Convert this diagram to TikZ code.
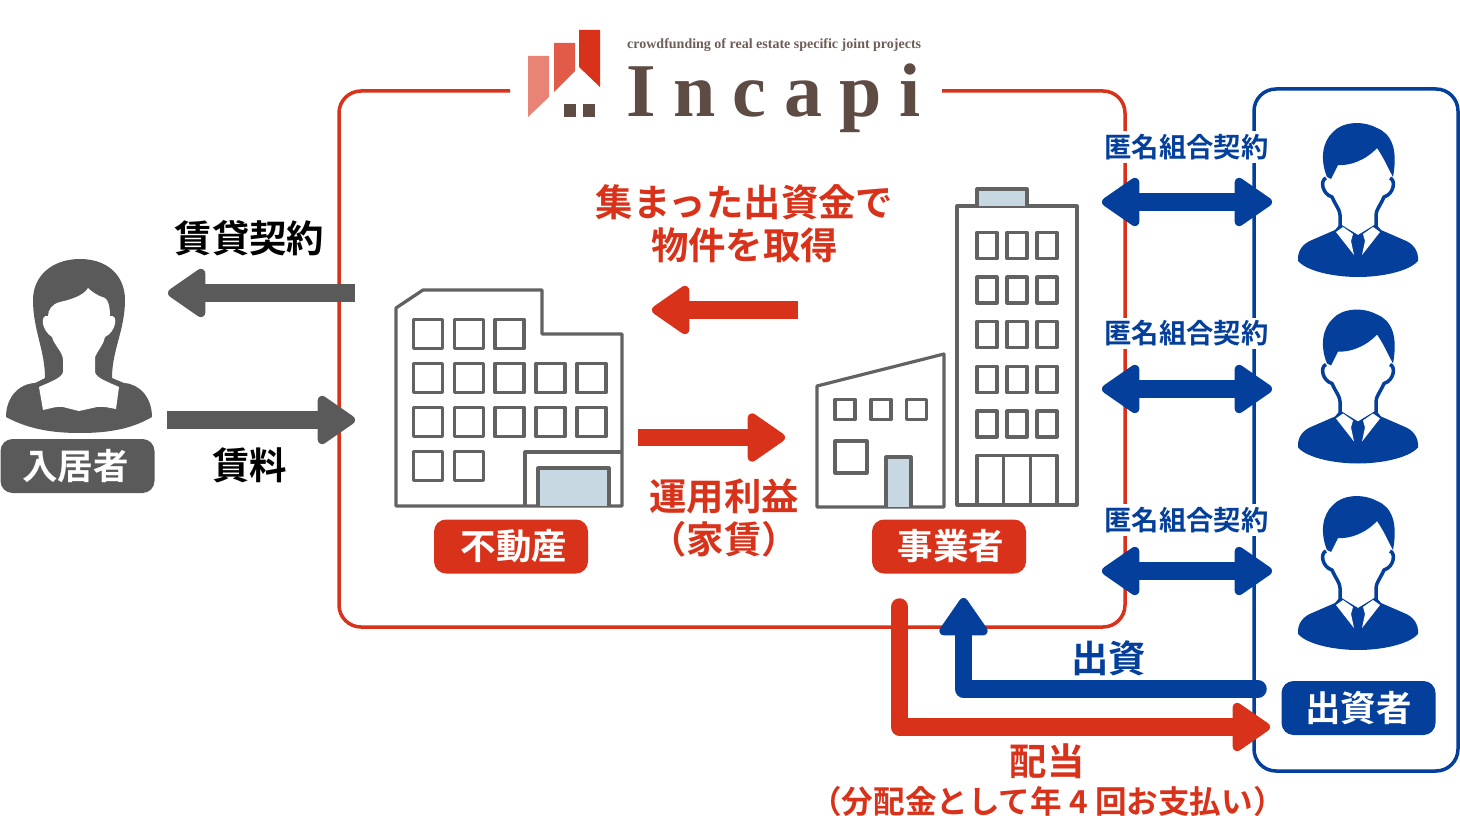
\documentclass[tikz,border=0pt]{standalone}
\usepackage{fontspec}
\setmainfont{Noto Sans CJK JP}[BoldFont=* Bold]
\newfontfamily\logofont{Liberation Serif}
\usetikzlibrary{positioning, arrows.meta}
\definecolor{incred}{HTML}{D9321A}
\definecolor{incblue}{HTML}{043F9B}
\definecolor{incgray}{HTML}{5A5A5A}
\definecolor{incbrown}{HTML}{5E4B44}
\definecolor{incdoor}{HTML}{C8D8E2}
\tikzset{
  bigtip/.tip={Triangle[length=41pt,width=54pt,line width=9pt,round]},
  bigarrow/.style={line width=17.5pt, -bigtip},
  bothways/.style={line width=17.5pt, bigtip-bigtip},
  tag/.style={rounded corners=12pt, minimum width=154pt, minimum height=54pt, inner sep=0pt,
    text=white, font=\bfseries\fontsize{35.5}{40}\selectfont},
  caption/.style={align=center, inner sep=0pt, font=\bfseries\fontsize{37.4}{43}\selectfont},
  smallcaption/.style={align=center, inner sep=0pt, font=\bfseries\fontsize{27.3}{33}\selectfont},
  contract/.style={smallcaption, text=incblue, fill=white, inner ysep=3pt},
  frame/.style={line width=3.5pt, rounded corners=22pt},
  bld/.style={draw=incgray!95!white, line width=3.2pt, line join=round},
  win/.style={bld},
  man/.pic={
    \fill[incblue] (1298,261) .. controls (1297,250) and (1304,243) .. (1312,240)
      -- (1335,230) -- (1340,224) -- (1358,235) -- (1376,224) -- (1381,230) -- (1404,240)
      .. controls (1412,243) and (1419,250) .. (1418,261)
      .. controls (1408,272) and (1380,277) .. (1358,277)
      .. controls (1336,277) and (1308,272) .. (1298,261) -- cycle;
    \fill[white] (1336,232) -- (1343,227) -- (1353,234) -- (1351,241) -- (1354,255) -- cycle;
    \fill[white] (1380,232) -- (1373,227) -- (1363,234) -- (1365,241) -- (1362,255) -- cycle;
    \draw[incblue, line width=3.5pt, line join=round]
      (1326,178) .. controls (1320,180) and (1322,194) .. (1332,197)
      .. controls (1336,206) and (1340,210) .. (1340,215) -- (1340,226);
    \draw[incblue, line width=3.5pt, line join=round]
      (1390,178) .. controls (1396,180) and (1394,194) .. (1384,197)
      .. controls (1380,206) and (1376,210) .. (1376,215) -- (1376,226);
    \fill[incblue] (1327,177) .. controls (1320,160) and (1322,142) .. (1333,132)
      .. controls (1342,122) and (1362,120) .. (1377,128)
      .. controls (1392,134) and (1398,150) .. (1393,177)
      .. controls (1389,170) and (1384,158) .. (1377,148)
      .. controls (1366,160) and (1350,166) .. (1338,165)
      -- (1331,179) -- cycle;
  }
}

\begin{document}
\begin{tikzpicture}[x=1pt,y=-1pt]
  \useasboundingbox (0,0) rectangle (1460,816);

  % frames
  \draw[frame, draw=incred] (510,91) -- (339,91) -- (339,627) -- (1125,627) -- (1125,91) -- (942,91);
  \draw[frame, draw=incblue] (1254,89) rectangle (1458,771);

  % logo
  \fill[incred!60!white] (528,56) -- (549,56) -- (549,97) -- (528,117) -- cycle;
  \fill[incred!80!white] (554,43) -- (575,43) -- (575,71) -- (554,92) -- cycle;
  \fill[incred] (579,30) -- (600,30) -- (600,87) -- (579,67) -- cycle;
  \fill[incbrown] (564,104) rectangle (576,117);
  \fill[incbrown] (583,104) rectangle (595,117);
  \node[anchor=west, inner sep=0pt, text=incbrown!90!white, font=\logofont\bfseries\fontsize{14}{16}\selectfont] (slogan) at (627,45)
    {crowdfunding of real estate specific joint projects};
  \node[anchor=base west, inner sep=0pt, text=incbrown, font=\logofont\bfseries\fontsize{76}{90}\selectfont\addfontfeature{LetterSpace=23}] (incapi) at (626,117) {Incapi};

  % tenant
  \fill[incgray] (80,259) .. controls (52,259) and (33,276) .. (33,300)
    .. controls (33,330) and (45,350) .. (45,378) -- (35,383)
    .. controls (18,384) and (6,398) .. (6,417)
    .. controls (30,430) and (55,433) .. (80,433)
    .. controls (105,433) and (130,430) .. (152,417)
    .. controls (152,398) and (140,384) .. (124,383) -- (112,378)
    .. controls (112,350) and (125,330) .. (125,300)
    .. controls (125,276) and (108,259) .. (80,259) -- cycle;
  \fill[white] (88,288) .. controls (85,293) and (78,298) .. (60,302) .. controls (52,304) and (48,310) .. (48,316)
    .. controls (40,314) and (41,330) .. (52,337) .. controls (54,345) and (63,352) .. (63,360)
    -- (63,372) .. controls (62,378) and (50,382) .. (39,387) -- (43,410) .. controls (52,408) and (58,406) .. (63,407)
    -- (79,411) -- (97,407) .. controls (104,406) and (110,408) .. (116,409) -- (119,387)
    .. controls (108,382) and (96,378) .. (95,372) -- (95,357) .. controls (98,350) and (104,344) .. (105,337)
    .. controls (116,332) and (119,314) .. (110,316) .. controls (110,306) and (108,300) .. (105,298)
    .. controls (98,296) and (92,292) .. (88,288) -- cycle;
  \node[tag, fill=incgray] (tenant) at (77.5,466) {入居者\kern4pt};
  \node[caption] (leaselabel) at (249.5,238) {賃貸契約};
  \node[caption] (rentlabel) at (249.5,465) {賃料};

  \coordinate (leaseS) at (355,293);
  \coordinate (leaseE) at (168,293);
  \coordinate (rentS) at (167,420);
  \coordinate (rentE) at (355,420);
  \draw[bigarrow, draw=incgray] (leaseS) -- (leaseE);
  \draw[bigarrow, draw=incgray] (rentS) -- (rentE);

  % property
  \draw[bld] (396,308) -- (423,290) -- (542,290) -- (542,334) -- (622,334) -- (622,506) -- (396,506) -- cycle;
  \foreach \x in {428,468.7,509.5}
    \draw[win] (\x-14.5,319.5) rectangle ++(29,29);
  \foreach \y in {378,422}
    \foreach \x in {428,468.7,509.5,550.5,591.5}
      \draw[win] (\x-14.5,\y-14.5) rectangle ++(29,29);
  \foreach \x in {428,468.7}
    \draw[win] (\x-14.5,451.5) rectangle ++(29,29);
  \draw[bld] (525,506) -- (525,452) -- (622,452);
  \draw[bld, fill=incdoor] (538,506) -- (538,468) -- (609,468) -- (609,506);
  \node[tag, fill=incred] (property) at (511,546.5) {\kern6pt不動産};

  % operator
  \draw[bld] (817,386) -- (944,354) -- (944,507) -- (817,507) -- cycle;
  \foreach \x in {845,881,916.5}
    \draw[win] (\x-10,399.5) rectangle ++(20,20);
  \draw[win] (835,441) rectangle (867,473);
  \draw[bld, fill=incdoor] (886,507) -- (886,457) -- (911,457) -- (911,507);
  \draw[bld] (957,206) rectangle (1077,505);
  \draw[bld, fill=incdoor] (977,206) -- (977,189) -- (1027,189) -- (1027,206);
  \foreach \y in {245.5,290,334.5,379.5,424}
    \foreach \x in {987,1017,1047}
      \draw[win] (\x-10,\y-13) rectangle ++(20,26);
  \draw[bld] (977,505) -- (977,455.5) -- (1057,455.5) -- (1057,505);
  \draw[bld] (1003.5,455.5) -- (1003.5,505);
  \draw[bld] (1030.5,455.5) -- (1030.5,505);
  \node[tag, fill=incred] (operator) at (949,546.5) {\kern4pt事業者};

  \node[caption, text=incred] (fundlabel) at (744.5,223.5) {集まった出資金で\\物件を取得};
  \node[caption, text=incred] (profitlabel) at (724,518) {運用利益\\（家賃）};
  \coordinate (buyS) at (798,310);
  \coordinate (buyE) at (652,310);
  \coordinate (profitS) at (638,437.5);
  \coordinate (profitE) at (785,437.5);
  \draw[bigarrow, draw=incred] (buyS) -- (buyE);
  \draw[bigarrow, draw=incred] (profitS) -- (profitE);

  % investors
  \foreach \n/\dy/\ay in {1/0/202,2/186.5/389,3/373/571}{
    \pic at (0,\dy) {man};
    \node[contract] (contract\n) at (1186.5,147+\dy) {匿名組合契約};
    \coordinate (signL\n) at (1102,\ay);
    \coordinate (signR\n) at (1272,\ay);
    \draw[bothways, draw=incblue] (signL\n) -- (signR\n);
  }
  \node[tag, fill=incblue] (investor) at (1358.5,708) {出資者};

  \coordinate (fundS) at (1258,689);
  \coordinate (fundC) at (963.5,689);
  \coordinate (fundE) at (963.5,598);
  \coordinate (payS) at (899.5,607);
  \coordinate (payC) at (899.5,727);
  \coordinate (payE) at (1270,727);
  \draw[bigarrow, draw=incred, line cap=round, line join=round] (payS) -- (payC) -- (payE);
  \draw[bigarrow, draw=incblue, line cap=round, line join=round] (fundS) -- (fundC) -- (fundE);

  \node[caption, text=incblue] (fundinglabel) at (1108.5,658) {出資};
  \node[caption, text=incred] (paylabel) at (1047,761) {配当};
  \node[smallcaption, font=\bfseries\fontsize{31.6}{33}\selectfont, text=incred] (paynote) at (1047.5,801) {（分配金として年 4 回お支払い）};
\end{tikzpicture}
\end{document}
